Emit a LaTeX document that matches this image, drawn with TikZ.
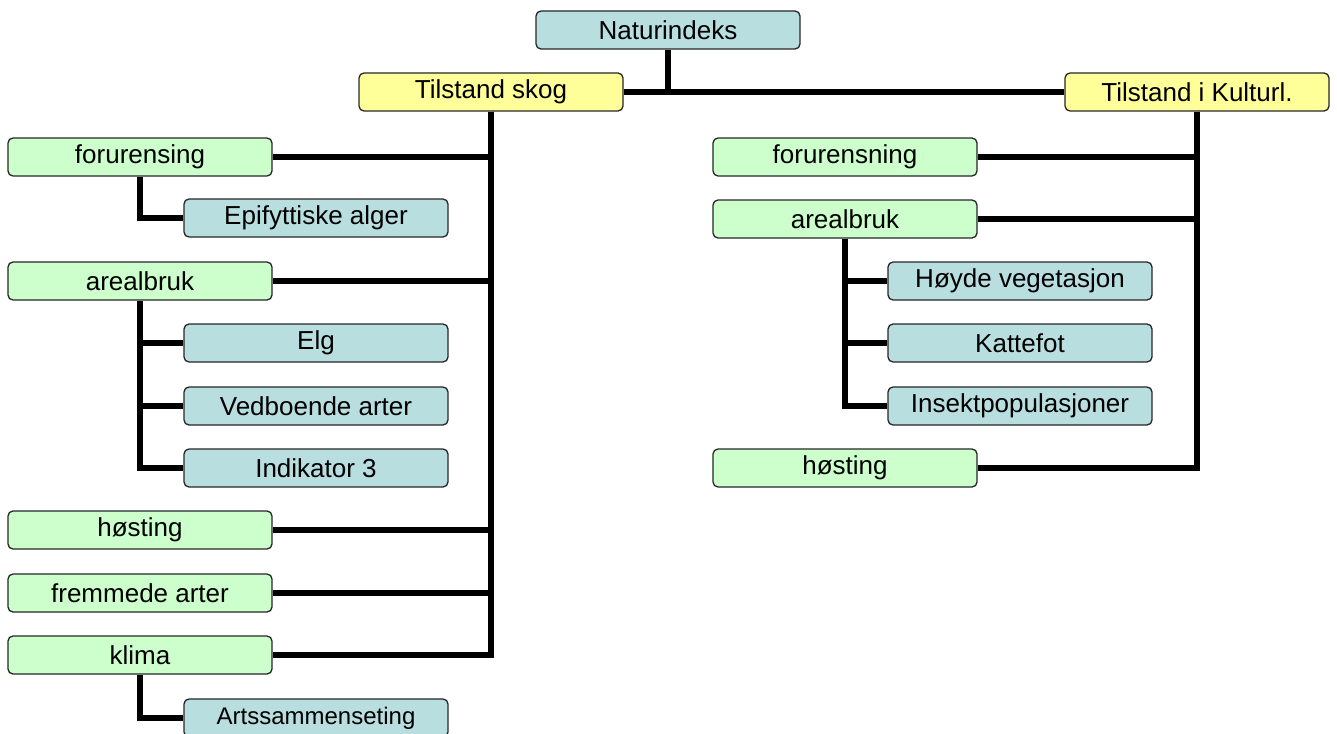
\documentclass[tikz,border=0pt]{standalone}
\usepackage{fontspec}
\setmainfont{Liberation Sans}
\usepackage{xcolor}
\usetikzlibrary{positioning, backgrounds}
\definecolor{indexblue}{HTML}{B8DEE0}
\definecolor{statusyellow}{HTML}{FFFF99}
\definecolor{pressuregreen}{HTML}{CCFFCC}

\begin{document}
\begin{tikzpicture}[
        x=1pt, y=-1pt,
        box/.style={rectangle, rounded corners=5pt, draw=black!85, line width=1.3pt, minimum width=264pt, minimum height=38pt, inner sep=0pt, align=center, font=\fontsize{26}{28}\selectfont},
        index/.style={box, fill=indexblue},
        status/.style={box, fill=statusyellow},
        pressure/.style={box, fill=pressuregreen},
        link/.style={line width=6pt, black}
    ]
        \useasboundingbox (0,0) rectangle (1337,733);

        % Top level
        \node[index] (natur) at (668, 30) {Naturindeks};
        \node[status] (skog) at (491, 92) {Tilstand skog};
        \node[status] (kultur) at (1197, 92) {Tilstand i Kulturl.};

        % Skog: pressures
        \node[pressure] (skogforur) at (140, 157) {forurensing};
        \node[pressure] (skogareal) at (140, 281) {arealbruk};
        \node[pressure] (skoghost) at (140, 530) {høsting};
        \node[pressure] (skogfremmed) at (140, 593) {fremmede arter};
        \node[pressure] (skogklima) at (140, 655) {klima};

        % Skog: indicators
        \node[index] (epifytt) at (316, 218) {Epifyttiske alger};
        \node[index] (elg) at (316, 343) {Elg};
        \node[index] (vedboende) at (316, 406) {Vedboende arter};
        \node[index] (indik3) at (316, 468) {Indikator 3};
        \node[index, font=\fontsize{24}{26}\selectfont] (artssamm) at (316, 718) {Artssammenseting};

        % Kulturlandskap: pressures
        \node[pressure] (kulturforur) at (845, 157) {forurensning};
        \node[pressure] (kulturareal) at (845, 219) {arealbruk};
        \node[pressure] (kulturhost) at (845, 468) {høsting};

        % Kulturlandskap: indicators
        \node[index] (hoyde) at (1020, 281) {Høyde vegetasjon};
        \node[index] (kattefot) at (1020, 343) {Kattefot};
        \node[index] (insekt) at (1020, 406) {Insektpopulasjoner};

        % Connections
        \begin{scope}[on background layer]
            \draw[link] (skog.east) -- (kultur.west);
            \draw[link] (natur.south) -- (natur.south |- skog.east);
            \foreach \p in {skogforur, skogareal, skoghost, skogfremmed, skogklima}
                \draw[link] (skog.south) |- (\p.east);
            \draw[link] (skogforur.south) |- (epifytt.west);
            \foreach \i in {elg, vedboende, indik3}
                \draw[link] (skogareal.south) |- (\i.west);
            \draw[link] (skogklima.south) |- (artssamm.west);
            \foreach \p in {kulturforur, kulturareal, kulturhost}
                \draw[link] (kultur.south) |- (\p.east);
            \foreach \i in {hoyde, kattefot, insekt}
                \draw[link] (kulturareal.south) |- (\i.west);
        \end{scope}
\end{tikzpicture}
\end{document}
